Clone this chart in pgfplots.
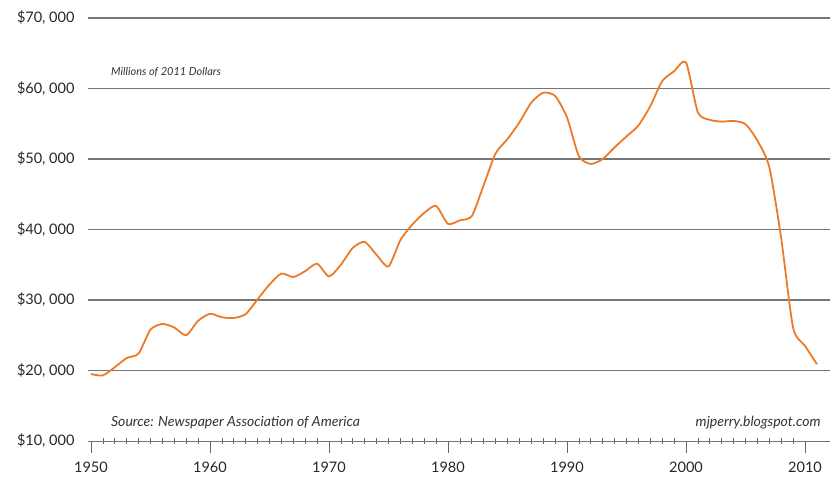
\documentclass[border=0pt]{standalone}
\usepackage{fontspec}
\setmainfont{Lato}
\usepackage{pgfplots}
\pgfplotsset{compat=1.18}
\definecolor{lineorange}{RGB}{236,122,38}
\definecolor{gridgray}{RGB}{118,118,118}
\begin{document}
\begin{tikzpicture}
\begin{axis}[
  scale only axis, width=742pt, height=423pt,
  xmin=1949.75, xmax=2012.1, ymin=10000, ymax=70000,
  scaled y ticks=false, scaled x ticks=false,
  axis x line*=bottom, axis y line*=left,
  y axis line style={draw=none},
  x axis line style={black!55, line width=0.8pt},
  ytick={20000,30000,40000,50000,60000,70000},
  yticklabels={\$20{,} 000,\$30{,} 000,\$40{,} 000,\$50{,} 000,\$60{,} 000,\$70{,} 000},
  extra y ticks={10000}, extra y tick labels={\$10{,} 000},
  extra y tick style={grid=none, ytick style={draw=none}},
  ymajorgrids, grid style={gridgray, line width=1.5pt},
  ytick style={draw=none},
  xtick={1950,1960,1970,1980,1990,2000,2010},
  xticklabels={1950,1960,1970,1980,1990,2000,2010},
  minor x tick num=9,
  tick align=outside, major tick length=12pt, minor tick length=6pt,
  xtick style={black!60, line width=0.7pt},
  every minor tick/.append style={black!60, line width=0.7pt, yshift=3pt},
  ticklabel style={font=\fontsize{14.5}{17}\selectfont, text=black!85},
  xticklabel style={yshift=-5pt},
  yticklabel style={xshift=2pt},
  clip=false,
]
\addplot[lineorange, line width=1.8pt, smooth, tension=0.4] coordinates {
(1950,19500) (1951,19300) (1952,20460) (1953,21770) (1954,22400)
(1955,25800) (1956,26600) (1957,26100) (1958,25000) (1959,27050)
(1960,28050) (1961,27550) (1962,27450) (1963,28000) (1964,30100)
(1965,32200) (1966,33750) (1967,33250) (1968,34100) (1969,35150)
(1970,33350) (1971,35000) (1972,37400) (1973,38250) (1974,36400)
(1975,34750) (1976,38500) (1977,40700) (1978,42350) (1979,43350)
(1980,40800) (1981,41300) (1982,41900) (1983,46300) (1984,50800)
(1985,52830) (1986,55200) (1987,58000) (1988,59400) (1989,58950)
(1990,55900) (1991,50400) (1992,49300) (1993,50000) (1994,51650)
(1995,53200) (1996,54750) (1997,57500) (1998,61050) (1999,62450)
(2000,63700) (2001,56600) (2002,55550) (2003,55300) (2004,55400)
(2005,54950) (2006,52600) (2007,48850) (2008,38750) (2009,26050)
(2010,23500) (2011,20900)
};
\node[anchor=west, font=\fontsize{11}{13}\selectfont\itshape, text=black!80] at (axis cs:1951.4,62300) {Millions of 2011 Dollars};
\node[anchor=west, font=\fontsize{14}{16}\selectfont\itshape, text=black!80] at (axis cs:1951.4,12600) {Source: Newspaper Association of America};
\node[anchor=east, font=\fontsize{14}{16}\selectfont\itshape, text=black!80] at (axis cs:2011.6,12600) {mjperry.blogspot.com};
\end{axis}
\path (current axis.south west) ++(-88pt,-47pt) rectangle ++(833pt,488pt);
\end{tikzpicture}
\end{document}
